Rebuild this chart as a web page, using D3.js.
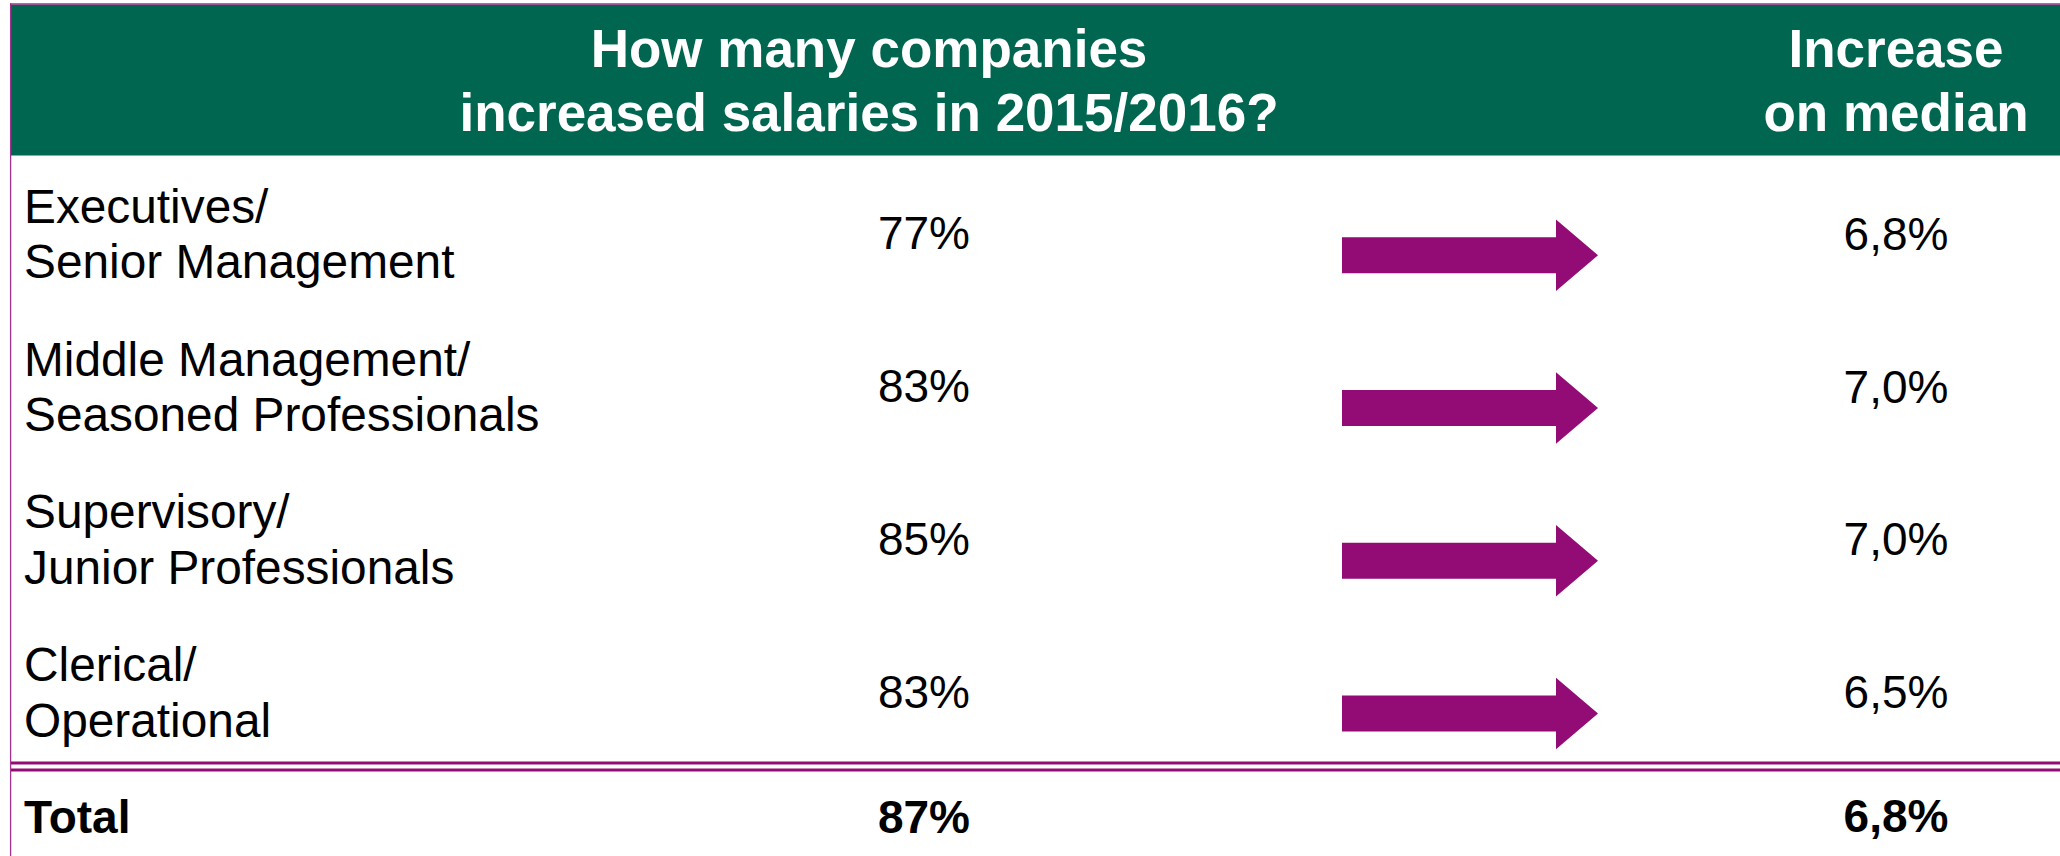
<!DOCTYPE html>
<html>
<head>
<meta charset="utf-8">
<script src="https://cdn.jsdelivr.net/npm/d3@7"></script>
<style>
  html, body { margin: 0; padding: 0; background: #ffffff; }
  svg { display: block; }
  text { font-family: "Liberation Sans", Arial, Helvetica, sans-serif; }
</style>
</head>
<body>
<svg id="chart" width="2060" height="856"></svg>
<script>
// Salary increase survey: share of companies raising pay and median increase
const categories = [
  ["Executives/", "Senior Management"],
  ["Middle Management/", "Seasoned Professionals"],
  ["Supervisory/", "Junior Professionals"],
  ["Clerical/", "Operational"]
];
const companiesIncreased = [77, 83, 85, 83];     // % of companies
const medianIncrease = [6.8, 7.0, 7.0, 6.5];      // % increase on median
const totalLabel = "Total";
const totalCompanies = 87;
const totalMedian = 6.8;
const headerLeft = ["How many companies", "increased salaries in 2015/2016?"];
const headerRight = ["Increase", "on median"];

const W = 2060, H = 856;
const GREEN = "#00664f";
const PURPLE = "#930c75";
const BORDER = "#a0338c";

const svg = d3.select("#chart");

// comma decimal separator
const loc = d3.formatLocale({ decimal: ",", thousands: ".", grouping: [3], currency: ["", "€"] });
const fmtPct = v => d3.format("d")(v) + "%";
const fmtMed = v => loc.format(".1f")(v) + "%";

// Column positions
const x = d3.scaleOrdinal()
  .domain(["label", "companies", "arrowStart", "arrowEnd", "median"])
  .range([24, 924, 1342, 1598, 1896]);
const leftHeaderCenter = 869;

// Row bands between header and double rule
const rowIds = categories.map((_, i) => i);
const y = d3.scaleBand().domain(rowIds).range([155.5, 766.5]).padding(0);
const rowMid = i => y(i) + y.bandwidth() / 2;

// Header block
svg.append("rect").attr("x", 10).attr("y", 4.5).attr("width", W - 10).attr("height", 151)
  .attr("fill", GREEN);
svg.append("line").attr("x1", 10).attr("x2", W).attr("y1", 4).attr("y2", 4)
  .attr("stroke", BORDER).attr("stroke-width", 1.4);
svg.append("line").attr("x1", 10.6).attr("x2", 10.6).attr("y1", 3.3).attr("y2", H)
  .attr("stroke", BORDER).attr("stroke-width", 1.3);

const hdrBase = [67, 131];
svg.append("g").selectAll("text").data(headerLeft).join("text")
  .attr("x", leftHeaderCenter).attr("y", (d, i) => hdrBase[i])
  .attr("text-anchor", "middle").attr("fill", "#ffffff")
  .attr("font-weight", "bold").attr("font-size", 53).text(d => d);
svg.append("g").selectAll("text").data(headerRight).join("text")
  .attr("x", x("median")).attr("y", (d, i) => hdrBase[i])
  .attr("text-anchor", "middle").attr("fill", "#ffffff")
  .attr("font-weight", "bold").attr("font-size", 53).text(d => d);

// Rows
const rows = svg.append("g").selectAll("g").data(rowIds).join("g");

rows.append("text")
  .attr("x", x("label")).attr("font-size", 47.8).attr("fill", "#000")
  .selectAll("tspan").data(i => categories[i].map((t, k) => ({ t, k, i }))).join("tspan")
  .attr("x", x("label"))
  .attr("y", d => rowMid(d.i) - 9 + d.k * 55.4)
  .text(d => d.t);

rows.append("text")
  .attr("x", x("companies")).attr("y", i => rowMid(i) + 17.5)
  .attr("text-anchor", "middle").attr("font-size", 46).attr("fill", "#000")
  .text(i => fmtPct(companiesIncreased[i]));

rows.append("text")
  .attr("x", x("median")).attr("y", i => rowMid(i) + 18)
  .attr("text-anchor", "middle").attr("font-size", 46).attr("fill", "#000")
  .text(i => fmtMed(medianIncrease[i]));

// Block arrows linking the two measures
const shaftHalf = 18, headHalf = 35.7, headLen = 42;
rows.append("path")
  .attr("fill", PURPLE)
  .attr("d", i => {
    const cy = rowMid(i) + 23.4;
    const x0 = x("arrowStart"), x1 = x("arrowEnd"), xb = x1 - headLen;
    return d3.line()([
      [x0, cy - shaftHalf], [xb, cy - shaftHalf], [xb, cy - headHalf], [x1, cy],
      [xb, cy + headHalf], [xb, cy + shaftHalf], [x0, cy + shaftHalf]
    ]) + "Z";
  });

// Double rule above the total row
[763, 770].forEach(yy => {
  svg.append("line").attr("x1", 11).attr("x2", W).attr("y1", yy).attr("y2", yy)
    .attr("stroke", PURPLE).attr("stroke-width", 3.2);
});

// Total row
const totalY = 833;
svg.append("text").attr("x", x("label")).attr("y", totalY)
  .attr("font-size", 46).attr("font-weight", "bold").text(totalLabel);
svg.append("text").attr("x", x("companies")).attr("y", totalY)
  .attr("text-anchor", "middle").attr("font-size", 46).attr("font-weight", "bold")
  .text(fmtPct(totalCompanies));
svg.append("text").attr("x", x("median")).attr("y", totalY - 1)
  .attr("text-anchor", "middle").attr("font-size", 46).attr("font-weight", "bold")
  .text(fmtMed(totalMedian));
</script>
</body>
</html>
